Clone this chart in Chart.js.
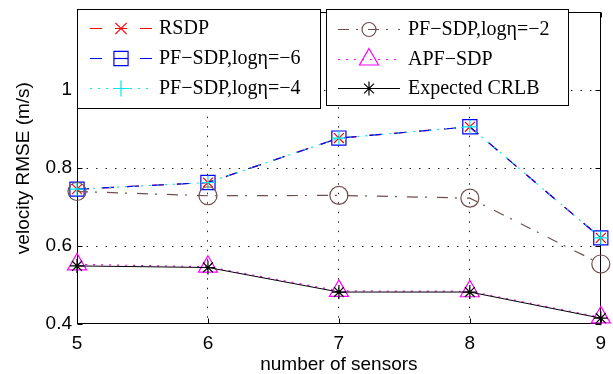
<!DOCTYPE html>
<html>
<head>
<meta charset="utf-8">
<script src="https://cdn.jsdelivr.net/npm/chart.js@4.4.1/dist/chart.umd.min.js"></script>
<style>
  html, body { margin: 0; padding: 0; background: #fff; }
  #wrap { position: relative; width: 613px; height: 374px; }
</style>
</head>
<body>
<div id="wrap"><canvas id="myChart"></canvas></div>
<script>
// x axis: number of sensors
const sensors = [5, 6, 7, 8, 9];
// velocity RMSE (m/s) per method
const rsdp   = [0.746, 0.763, 0.877, 0.906, 0.621];
const pfSdp6 = [0.746, 0.763, 0.877, 0.906, 0.621];
const pfSdp4 = [0.746, 0.763, 0.877, 0.906, 0.621];
const pfSdp2 = [0.740, 0.729, 0.730, 0.723, 0.554];
const apfSdp = [0.553, 0.547, 0.485, 0.484, 0.417];
const crlb   = [0.549, 0.545, 0.482, 0.482, 0.415];
const yTicks = [0.4, 0.6, 0.8, 1, 1.2];
const names  = ['RSDP', 'PF\u2212SDP,log\u03b7=\u22126', 'PF\u2212SDP,log\u03b7=\u22124',
                'PF\u2212SDP,log\u03b7=\u22122', 'APF\u2212SDP', 'Expected CRLB'];

function pts(arr) {
    return sensors.map((x, i) => ({ x: x, y: arr[i] }));
}

// matlab-ish line styles (lr = marker size in the legend)
const styles = [
    { color: '#ff0000', dash: [12, 13], marker: 'crossRot', r: 7, lr: 8, w: 1.2 },
    { color: '#0000ff', dash: [12, 13], marker: 'rect', r: 10, lr: 10, w: 1.2 },
    { color: '#00e8e8', dash: [2, 6], marker: 'cross', r: 7, lr: 8, w: 1.2 },
    { color: '#6f4f4f', dash: [11, 7, 2, 10], marker: 'circle', r: 9, lr: 7, w: 1.2 },
    { color: '#ff00ff', dash: [2, 6], marker: 'triangle', r: 11, lr: 11, w: 1.2 },
    { color: '#000000', dash: [], marker: 'star', r: 7, lr: 7, w: 1 }
];
const allData = [rsdp, pfSdp6, pfSdp4, pfSdp2, apfSdp, crlb];

const datasets = allData.map((arr, i) => ({
    label: names[i],
    data: pts(arr),
    borderColor: styles[i].color,
    borderWidth: styles[i].w,
    borderDash: styles[i].dash,
    pointStyle: styles[i].marker,
    pointRadius: styles[i].r,
    pointHoverRadius: styles[i].r,
    pointBorderColor: styles[i].color,
    pointBackgroundColor: 'rgba(0,0,0,0)',
    pointBorderWidth: 1.2,
    fill: false,
    tension: 0,
    clip: false,
    order: 10 - i
}));

const framePlugin = {
    id: 'frame',
    beforeDatasetsDraw(chart) {
        const ctx = chart.ctx;
        const a = chart.chartArea;
        const l = Math.round(a.left) + 0.5, r = Math.round(a.right) - 0.5;
        const t = Math.round(a.top) + 0.5, b = Math.round(a.bottom) - 0.5;
        ctx.save();
        ctx.strokeStyle = '#000';
        ctx.lineWidth = 1;
        ctx.strokeRect(l, t, r - l, b - t);
        // inward tick marks
        ctx.beginPath();
        chart.scales.x.ticks.forEach(tk => {
            const px = Math.round(chart.scales.x.getPixelForValue(tk.value)) + 0.5;
            ctx.moveTo(px, b); ctx.lineTo(px, b - 5);
            ctx.moveTo(px, t); ctx.lineTo(px, t + 5);
        });
        chart.scales.y.ticks.forEach(tk => {
            const py = Math.round(chart.scales.y.getPixelForValue(tk.value)) + 0.5;
            ctx.moveTo(l, py); ctx.lineTo(l + 5, py);
            ctx.moveTo(r, py); ctx.lineTo(r - 5, py);
        });
        ctx.stroke();
        ctx.restore();
    }
};

function drawLegendBox(ctx, box, idx) {
    ctx.save();
    ctx.fillStyle = '#fff';
    ctx.fillRect(box.x, box.y, box.w, box.h);
    ctx.strokeStyle = '#000';
    ctx.lineWidth = 1;
    ctx.strokeRect(box.x + 0.5, box.y + 0.5, box.w, box.h);
    idx.forEach((di, k) => {
        const st = styles[di];
        const y = box.rows[k];
        const mx = (box.x0 + box.x1) / 2;
        ctx.strokeStyle = st.color;
        ctx.lineWidth = st.w;
        ctx.setLineDash(st.dash);
        ctx.beginPath();
        ctx.moveTo(box.x0, y + 0.5);
        ctx.lineTo(box.x1, y + 0.5);
        ctx.stroke();
        ctx.setLineDash([]);
        if (st.marker === 'rect') {
            ctx.beginPath();
            ctx.moveTo(mx - 7, y + 0.5);
            ctx.lineTo(mx + 7, y + 0.5);
            ctx.stroke();
        }
        ctx.fillStyle = 'rgba(0,0,0,0)';
        ctx.lineWidth = 1.2;
        Chart.helpers.drawPoint(ctx, { pointStyle: st.marker, radius: st.lr, borderWidth: 1.2, rotation: 0 },
            mx, y + 0.5);
        ctx.fillStyle = '#000';
        ctx.font = '20px "Liberation Serif", "Times New Roman", serif';
        ctx.textBaseline = 'middle';
        ctx.textAlign = 'left';
        ctx.fillText(names[di], box.tx, y + 1);
    });
    ctx.restore();
}

const legendPlugin = {
    id: 'twoLegends',
    afterDraw(chart) {
        const ctx = chart.ctx;
        drawLegendBox(ctx, { x: 77, y: 9, w: 243, h: 99, rows: [28, 58, 88], x0: 90, x1: 152, tx: 159 }, [0, 1, 2]);
        drawLegendBox(ctx, { x: 326, y: 9, w: 242, h: 96, rows: [29, 59, 88], x0: 338, x1: 400, tx: 408 }, [3, 4, 5]);
    }
};

const axisFont = { family: '"Liberation Sans", Arial, sans-serif', size: 19 };

function renderChart() {
    const ctx = document.getElementById('myChart');
    new Chart(ctx, {
        type: 'line',
        data: { datasets: datasets },
        plugins: [framePlugin, legendPlugin],
        options: {
            responsive: true,
            maintainAspectRatio: false,
            animation: false,
            layout: { padding: { left: 0, right: 8, top: 9, bottom: 0 } },
            plugins: { legend: { display: false }, tooltip: { enabled: false } },
            scales: {
                x: {
                    type: 'linear',
                    min: 5,
                    max: 9,
                    afterBuildTicks: s => { s.ticks = sensors.map(v => ({ value: v })); },
                    afterFit: s => { s.height = 50; s.paddingLeft = 0; s.paddingRight = 0; },
                    ticks: { color: '#000', font: axisFont, padding: 8, maxRotation: 0 },
                    grid: {
                        drawTicks: false,
                        color: c => (c.tick && (c.tick.value === 5 || c.tick.value === 9)) ? 'rgba(0,0,0,0)' : '#222',
                        lineWidth: 1
                    },
                    border: { display: false, dash: [1.5, 8] },
                    title: {
                        display: true, text: 'number of sensors', color: '#000',
                        font: { family: axisFont.family, size: 19, lineHeight: 1 }, padding: { top: 0, bottom: 0 }
                    }
                },
                y: {
                    min: 0.4,
                    max: 1.2,
                    afterBuildTicks: s => { s.ticks = yTicks.map(v => ({ value: v })); },
                    afterFit: s => { s.width = 77; s.paddingTop = 0; s.paddingBottom = 0; },
                    ticks: {
                        color: '#000', font: axisFont, padding: 5,
                        callback: v => (v >= 1.2 ? '' : String(v))
                    },
                    grid: {
                        drawTicks: false,
                        color: c => (c.tick && (c.tick.value === 0.4 || c.tick.value === 1.2)) ? 'rgba(0,0,0,0)' : '#222',
                        lineWidth: 1
                    },
                    border: { display: false, dash: [1.5, 8] },
                    title: { display: true, text: 'velocity RMSE (m/s)', color: '#000', font: axisFont, padding: { top: 12, bottom: 0 } }
                }
            }
        }
    });
}

renderChart();
</script>
</body>
</html>
